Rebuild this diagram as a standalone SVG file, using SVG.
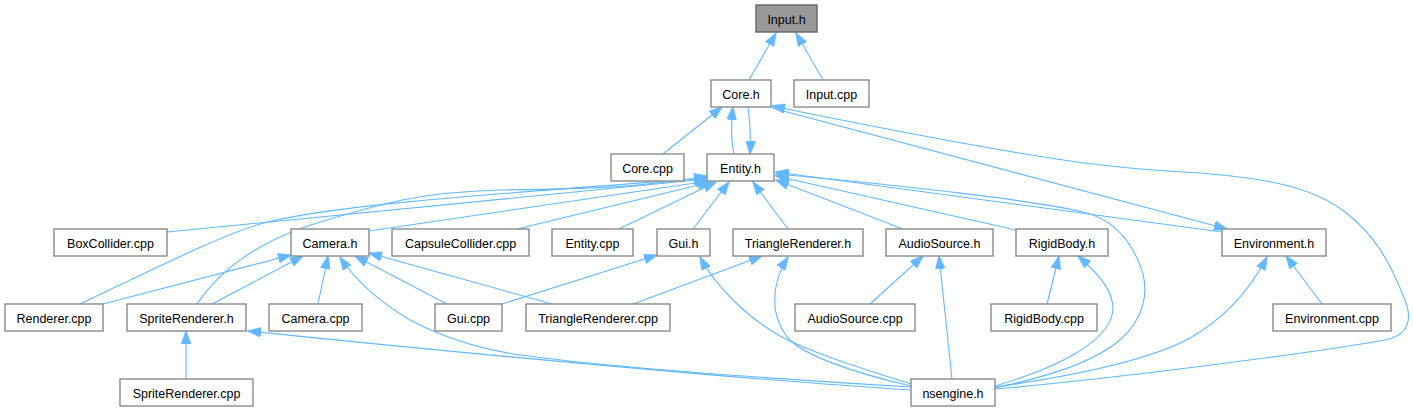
<svg xmlns="http://www.w3.org/2000/svg" width="1413" height="411" viewBox="0 0 1413 411">
<defs>
<style>
.n rect{fill:#fff;stroke:#8a8a8a;stroke-width:1.4}
.n text{font-family:"Liberation Sans",Arial,sans-serif;font-size:12.5px;fill:#000;text-anchor:middle}
#n-input-h rect{fill:#999;stroke:#666}
.e path{fill:none;stroke:#63b8ff;stroke-width:1.1;marker-end:url(#ah)}
</style>
<marker id="ah" viewBox="0 0 14 10" refX="13" refY="5" markerWidth="14" markerHeight="10" markerUnits="userSpaceOnUse" orient="auto">
<path d="M0,0 L14,5 L0,10 z" fill="#63b8ff" stroke="#63b8ff" stroke-width="0.5"/>
</marker>
</defs>
<rect width="1413" height="411" fill="#fff"/>
<g id="connectors" class="e">
<path d="M749,80 L776,33"/>
<path d="M823,80 L796,33"/>
<path d="M663,154 L722,107"/>
<path d="M734,154 C731,140 731,124 733,107"/>
<path d="M748,107 C750,122 751,138 750,154"/>
<path d="M772,108 L1227,229"/>
<path d="M995,389 C1100,380 1300,355 1385,340 C1410,335 1412,318 1405,300 C1390,262 1375,235 1345,212 C1310,185 1260,178 1200,173 C1140,170 1100,166 1050,158 C960,144 860,124 772,106"/>
<path d="M167,232 L707,179"/>
<path d="M80,304 C160,266 220,236 260,224 C330,205 480,195 707,178"/>
<path d="M197,304 C220,270 260,240 320,222 C380,204 420,192 500,190 C580,189 640,188 707,176"/>
<path d="M369,231 L709,181"/>
<path d="M517,229 L711,182"/>
<path d="M619,229 L716,182"/>
<path d="M693,229 L729,182"/>
<path d="M788,229 L753,182"/>
<path d="M903,229 L776,180"/>
<path d="M1016,230 L776,176"/>
<path d="M1222,232 L776,172"/>
<path d="M995,388 C1040,378 1090,365 1120,340 C1145,318 1150,290 1140,265 C1130,240 1115,222 1090,214 C1050,202 900,185 776,174"/>
<path d="M911,384 C860,368 810,352 780,336 C745,316 715,285 700,257"/>
<path d="M911,386 C850,372 805,355 790,340 C770,318 770,285 788,257"/>
<path d="M911,387 C760,378 600,366 520,355 C480,349 440,336 410,320 C380,302 355,280 340,257"/>
<path d="M911,390 C750,380 450,352 248,331"/>
<path d="M186,379 L186,331"/>
<path d="M103,304 L291,255"/>
<path d="M212,304 L303,256"/>
<path d="M318,304 L328,256"/>
<path d="M447,304 L355,256"/>
<path d="M552,304 L369,253"/>
<path d="M502,304 L657,255"/>
<path d="M633,304 L762,256"/>
<path d="M870,304 L923,256"/>
<path d="M952,379 L939,256"/>
<path d="M1047,304 L1059,256"/>
<path d="M995,386 C1050,370 1105,345 1112,315 C1117,295 1100,275 1078,256"/>
<path d="M995,387 C1080,375 1150,360 1190,338 C1225,318 1250,290 1267,257"/>
<path d="M1322,304 L1286,256"/>
</g>
<g id="n-input-h" class="n"><rect x="756" y="5" width="61" height="27"/><text x="786.5" y="23.5">Input.h</text></g>
<g id="n-core-h" class="n"><rect x="711" y="80" width="60" height="27"/><text x="741" y="98.5">Core.h</text></g>
<g id="n-input-cpp" class="n"><rect x="794" y="80" width="75" height="27"/><text x="831.5" y="98.5">Input.cpp</text></g>
<g id="n-core-cpp" class="n"><rect x="611" y="154" width="73" height="27"/><text x="647.5" y="172.5">Core.cpp</text></g>
<g id="n-entity-h" class="n"><rect x="707" y="154" width="67" height="27"/><text x="740.5" y="172.5">Entity.h</text></g>
<g id="n-boxcollider-cpp" class="n"><rect x="54" y="229" width="113" height="27"/><text x="110.5" y="247.5">BoxCollider.cpp</text></g>
<g id="n-camera-h" class="n"><rect x="291" y="229" width="78" height="27"/><text x="330" y="247.5">Camera.h</text></g>
<g id="n-capsulecollider-cpp" class="n"><rect x="392" y="229" width="137" height="27"/><text x="460.5" y="247.5">CapsuleCollider.cpp</text></g>
<g id="n-entity-cpp" class="n"><rect x="552" y="229" width="81" height="27"/><text x="592.5" y="247.5">Entity.cpp</text></g>
<g id="n-gui-h" class="n"><rect x="657" y="229" width="53" height="27"/><text x="683.5" y="247.5">Gui.h</text></g>
<g id="n-trianglerenderer-h" class="n"><rect x="733" y="229" width="130" height="27"/><text x="798" y="247.5">TriangleRenderer.h</text></g>
<g id="n-audiosource-h" class="n"><rect x="886" y="229" width="107" height="27"/><text x="939.5" y="247.5">AudioSource.h</text></g>
<g id="n-rigidbody-h" class="n"><rect x="1016" y="229" width="92" height="27"/><text x="1062" y="247.5">RigidBody.h</text></g>
<g id="n-environment-h" class="n"><rect x="1222" y="229" width="104" height="27"/><text x="1274" y="247.5">Environment.h</text></g>
<g id="n-renderer-cpp" class="n"><rect x="5" y="304" width="98" height="27"/><text x="54" y="322.5">Renderer.cpp</text></g>
<g id="n-spriterenderer-h" class="n"><rect x="127" y="304" width="119" height="27"/><text x="186.5" y="322.5">SpriteRenderer.h</text></g>
<g id="n-camera-cpp" class="n"><rect x="269" y="304" width="93" height="27"/><text x="315.5" y="322.5">Camera.cpp</text></g>
<g id="n-gui-cpp" class="n"><rect x="435" y="304" width="67" height="27"/><text x="468.5" y="322.5">Gui.cpp</text></g>
<g id="n-trianglerenderer-cpp" class="n"><rect x="526" y="304" width="144" height="27"/><text x="598" y="322.5">TriangleRenderer.cpp</text></g>
<g id="n-audiosource-cpp" class="n"><rect x="795" y="304" width="120" height="27"/><text x="855" y="322.5">AudioSource.cpp</text></g>
<g id="n-rigidbody-cpp" class="n"><rect x="991" y="304" width="106" height="27"/><text x="1044" y="322.5">RigidBody.cpp</text></g>
<g id="n-environment-cpp" class="n"><rect x="1273" y="304" width="118" height="27"/><text x="1332" y="322.5">Environment.cpp</text></g>
<g id="n-spriterenderer-cpp" class="n"><rect x="120" y="379" width="133" height="27"/><text x="186.5" y="397.5">SpriteRenderer.cpp</text></g>
<g id="n-nsengine-h" class="n"><rect x="911" y="379" width="84" height="27"/><text x="953" y="397.5">nsengine.h</text></g>
</svg>
